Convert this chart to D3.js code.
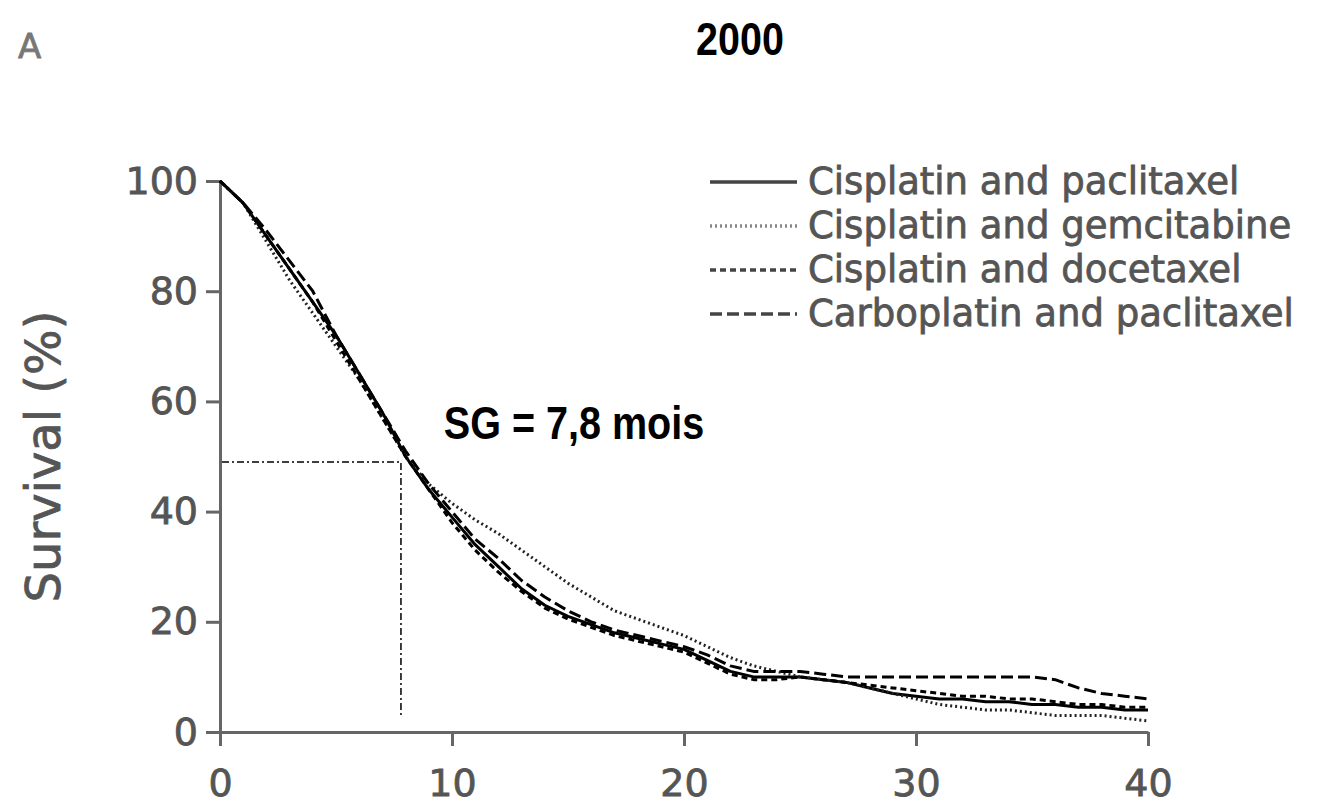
<!DOCTYPE html>
<html lang="en">
<head>
<meta charset="UTF-8">
<script src="https://cdnjs.cloudflare.com/ajax/libs/d3/7.8.5/d3.min.js"></script>
<title>2000</title>
<style>
    body { margin: 0; background: #fff; }
</style>
</head>
<body>
<script>
    // survival (%), one value per month
    const months = [0,1,2,3,4,5,6,7,8,9,10,11,12,13,14,15,16,17,18,19,20,21,22,23,24,25,26,27,28,29,30,31,32,33,34,35,36,37,38,39,40];
    const cisPac = [100,96,90,84,78,72,65,58,50,44,39,34,30,26,23,21,19.5,18,17,16,15,13,11,10,10,10,9.5,9,8,7,6.5,6,6,5.5,5.5,5,5,4.5,4.5,4,4];
    const cisGem = [100,96,89,82,76,70,64,57,50,45,41.5,38.5,36,33,30,27,24.5,22,20.5,19,17.5,15.5,13.5,12,11,10,9.5,9,8,7,6,5,4.5,4,4,3.5,3,3,3,2.5,2];
    const cisDoc = [100,96,90,84,78,71,64,57,50,44,38,33,29,25.5,22.5,20.5,19,17.5,16.5,15.5,14.5,12.5,10.5,9.5,9.5,10,9.5,9,8.5,8,7.5,7,6.5,6.5,6,6,5.5,5,5,4.5,4.5];
    const carboPac = [100,96,91,85.5,80,72,65,58,51,45,40,35,31.5,27.5,24.5,22,20,18.5,17.5,16.5,15.5,14,12,11,11,11,10.5,10,10,10,10,10,10,10,10,10,9.5,8,7,6.5,6];

    const seriesNames = ["Cisplatin and paclitaxel", "Cisplatin and gemcitabine", "Cisplatin and docetaxel", "Carboplatin and paclitaxel"];
    const seriesValues = [cisPac, cisGem, cisDoc, carboPac];
    const seriesDash = [null, "2,3", "6,4", "12,5"];

    const xTicks = [0, 10, 20, 30, 40];
    const yTicks = [0, 20, 40, 60, 80, 100];

    const medianOS = 7.8;      // months
    const medianLevel = 49;    // where the guide line sits (%)

    const width = 1318, height = 805;
    const svg = d3.select("body").append("svg")
        .attr("width", width)
        .attr("height", height);

    const x = d3.scaleLinear().domain([0, 40]).range([220, 1148]);
    const y = d3.scaleLinear().domain([0, 100]).range([732, 181]);

    const tickFont = "'DejaVu Sans', sans-serif";
    const axisGrey = "#666";
    const textGrey = "#555";

    // y axis
    const yAxis = svg.append("g")
        .attr("transform", "translate(" + x(0) + ",0)")
        .call(d3.axisLeft(y).tickValues(yTicks).tickSize(14).tickPadding(8).tickSizeOuter(0));
    // x axis
    const xAxis = svg.append("g")
        .attr("transform", "translate(0," + y(0) + ")")
        .call(d3.axisBottom(x).tickValues(xTicks).tickSize(14).tickPadding(23).tickSizeOuter(0));

    [yAxis, xAxis].forEach(g => {
        g.select(".domain").attr("stroke", axisGrey).attr("stroke-width", 3);
        g.selectAll(".tick line").attr("stroke", axisGrey).attr("stroke-width", 3);
        g.selectAll(".tick text")
            .attr("fill", textGrey)
            .attr("stroke", textGrey)
            .attr("stroke-width", 0.8)
            .style("font-family", tickFont)
            .style("font-size", "38px");
    });

    // y label
    svg.append("text")
        .attr("transform", "translate(60," + y(50) + ") rotate(-90)")
        .attr("text-anchor", "middle")
        .attr("fill", textGrey)
        .attr("stroke", textGrey)
        .attr("stroke-width", 0.8)
        .style("font-family", tickFont)
        .style("font-size", "48px")
        .text("Survival (%)");

    // survival curves
    const line = d3.line()
        .x((d, i) => x(months[i]))
        .y(d => y(d));

    seriesValues.forEach((vals, i) => {
        svg.append("path")
            .datum(vals)
            .attr("d", line)
            .attr("fill", "none")
            .attr("stroke", i === 1 ? "#222" : "#000")
            .attr("stroke-width", 3)
            .attr("stroke-linejoin", "round")
            .attr("stroke-dasharray", seriesDash[i]);
    });

    // median guide
    svg.append("path")
        .attr("d", "M" + (x(0) + 2) + "," + y(medianLevel) + "H" + x(medianOS) + "V" + (y(0) - 14))
        .attr("fill", "none")
        .attr("stroke", "#000")
        .attr("stroke-width", 1.5)
        .attr("stroke-dasharray", "7,3,2,3");

    // legend
    const legend = svg.append("g").attr("transform", "translate(710,0)");
    seriesNames.forEach((name, i) => {
        const ly = 182 + i * 44;
        legend.append("line")
            .attr("x1", 0).attr("x2", 87)
            .attr("y1", ly).attr("y2", ly)
            .attr("stroke", i === 1 ? "#888" : "#444")
            .attr("stroke-width", 3.5)
            .attr("stroke-dasharray", seriesDash[i]);
        legend.append("text")
            .attr("x", 98)
            .attr("y", ly + 12)
            .attr("fill", textGrey)
            .attr("stroke", textGrey)
            .attr("stroke-width", 0.8)
            .style("font-family", tickFont)
            .style("font-size", "37px")
            .text(name);
    });

    // annotations
    const narrow = "'Liberation Sans', Arial, sans-serif";
    svg.append("text")
        .attr("transform", "translate(740,55) scale(0.84,1)")
        .attr("text-anchor", "middle")
        .style("font-family", narrow)
        .style("font-weight", "bold")
        .style("font-size", "47px")
        .text("2000");

    svg.append("text")
        .attr("transform", "translate(574,439) scale(0.86,1)")
        .attr("text-anchor", "middle")
        .style("font-family", narrow)
        .style("font-weight", "bold")
        .style("font-size", "46px")
        .text("SG = 7,8 mois");

    svg.append("text")
        .attr("x", 18)
        .attr("y", 58)
        .attr("fill", "#777")
        .attr("stroke", "#777")
        .attr("stroke-width", 0.8)
        .style("font-family", tickFont)
        .style("font-size", "34px")
        .text("A");
</script>
</body>
</html>
